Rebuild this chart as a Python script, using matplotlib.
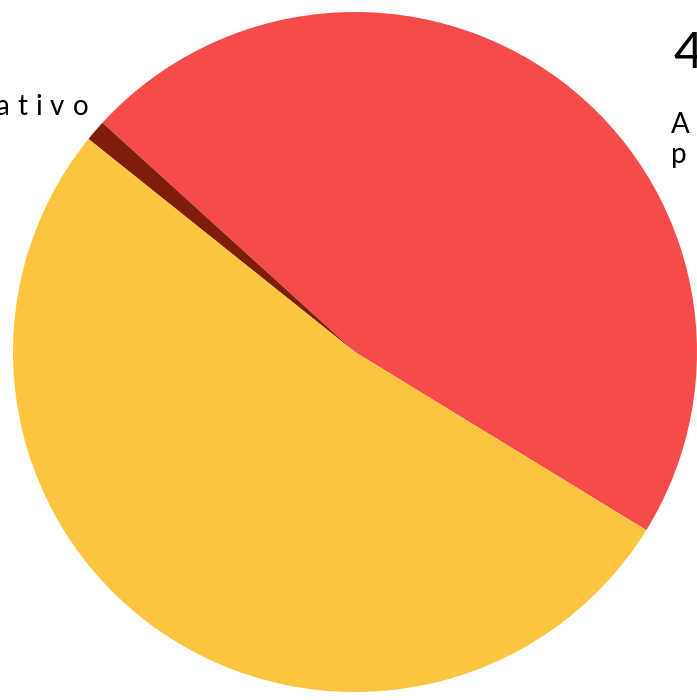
import matplotlib
matplotlib.use("Agg")
import matplotlib.pyplot as plt
from matplotlib.transforms import IdentityTransform

labels = ["Positivo", "Negativo", "Neutro"]
values = [47, 1, 52]
colors = ["#F54B4A", "#7E1E0A", "#FBC540"]

title_value = "47%"
subtitle = ["Avaliações", "positivas"]

plt.rcParams['font.family'] = ['Lato', 'DejaVu Sans']

fig = plt.figure(figsize=(6.97, 7.00), dpi=100)
ax = fig.add_axes([13 / 697, 8 / 700, 684 / 697, 680 / 700])
ax.pie(values, colors=colors, startangle=-31.6, counterclock=True,
       wedgeprops={'linewidth': 0})
ax.set_xlim(-1, 1)
ax.set_ylim(-1, 1)
ax.set_aspect('auto')
ax.axis('off')

renderer = fig.canvas.get_renderer()


def spaced_text(x, y, s, size, spacing, align='left'):
    # letters one at a time, for the wide letter spacing
    widths = []
    for ch in s:
        t = fig.text(0, 0, ch, fontsize=size, transform=IdentityTransform())
        widths.append(t.get_window_extent(renderer).width)
        t.remove()
    total = sum(widths) + spacing * (len(s) - 1)
    pos = x - total if align == 'right' else x
    for ch, w in zip(s, widths):
        fig.text(pos, y, ch, fontsize=size, color='black',
                 transform=IdentityTransform(), va='baseline')
        pos += w + spacing


H = 700
spaced_text(88, H - 115, labels[1], 20, 8, align='right')
fig.text(673, H - 68, title_value, fontsize=37, color='black',
         transform=IdentityTransform(), va='baseline')
spaced_text(671, H - 133, subtitle[0], 20, 9)
spaced_text(671, H - 163, subtitle[1], 20, 9)

fig.savefig("out.png", dpi=100, facecolor='white')
